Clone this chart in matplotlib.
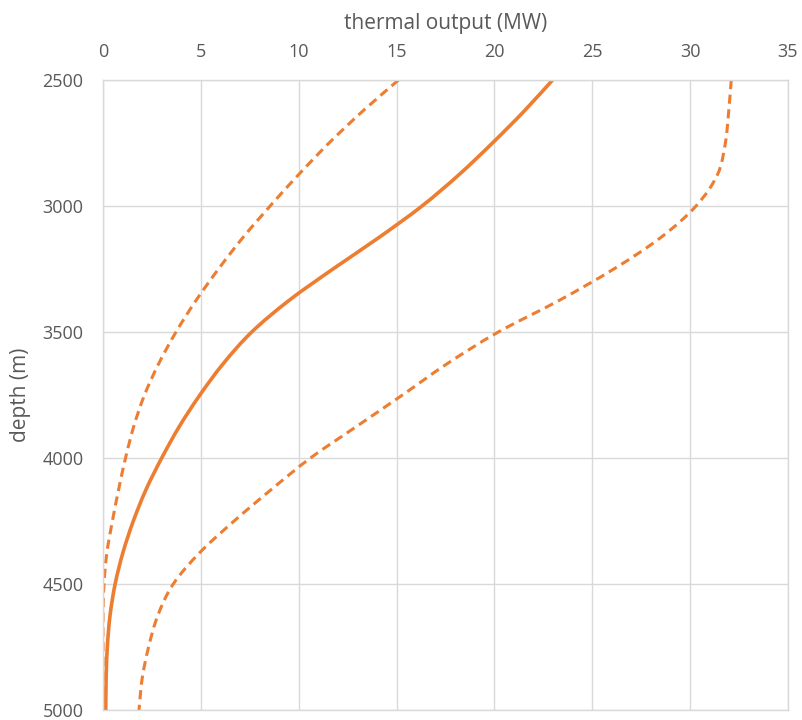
import matplotlib
matplotlib.use('Agg')
import matplotlib.pyplot as plt
from matplotlib.path import Path
from matplotlib.patches import PathPatch
import numpy as np

# depth (m) and thermal output (MW)
depth = [2500, 2625, 2750, 2875, 3000, 3125, 3250, 3375, 3500, 3625, 3750,
         3875, 4000, 4125, 4250, 4375, 4500, 4625, 4750, 4875, 5000]

mid_power = [22.97, 21.5, 19.9, 18.2, 16.3, 14.1, 11.75, 9.5, 7.6, 6.15, 4.95,
             3.9, 3.0, 2.2, 1.55, 1.02, 0.62, 0.36, 0.22, 0.16, 0.14]

low_power = [15.1, 13.25, 11.55, 10.0, 8.54, 7.15, 5.9, 4.75, 3.73, 2.85, 2.12,
             1.57, 1.15, 0.8, 0.48, 0.2, 0.05, 0.0, 0.0, 0.0, 0.0]

high_power = [32.1, 31.97, 31.8, 31.4, 30.3, 28.5, 26.1, 23.3, 20.2, 17.6, 15.3,
              12.95, 10.6, 8.6, 6.7, 4.95, 3.59, 2.8, 2.33, 2.0, 1.84]

x_ticks = [0, 5, 10, 15, 20, 25, 30, 35]
y_ticks = [2500, 3000, 3500, 4000, 4500, 5000]

orange = '#ED7D31'
grey_txt = '#595959'
grid_col = '#D9D9D9'


def smooth_path(xs, ys):
    # catmull-rom through the read points, drawn as bezier segments
    pts = np.column_stack([xs, ys]).astype(float)
    verts = [pts[0]]
    codes = [Path.MOVETO]
    n = len(pts)
    for i in range(n - 1):
        p0 = pts[i - 1] if i > 0 else pts[i]
        p1 = pts[i]
        p2 = pts[i + 1]
        p3 = pts[i + 2] if i + 2 < n else pts[i + 1]
        verts += [p1 + (p2 - p0) / 6, p2 - (p3 - p1) / 6, p2]
        codes += [Path.CURVE4] * 3
    return Path(verts, codes)


plt.rcParams['font.family'] = ['Open Sans', 'DejaVu Sans']

fig = plt.figure(figsize=(8.03, 7.2), dpi=100)
ax = fig.add_axes([103/803, 1 - 710/720, 685/803, 630/720])

dash = (0, (3, 1.8))
ax.add_patch(PathPatch(smooth_path(low_power, depth), fill=False,
                       edgecolor=orange, lw=2.2, linestyle=dash))
ax.add_patch(PathPatch(smooth_path(high_power, depth), fill=False,
                       edgecolor=orange, lw=2.2, linestyle=dash))
ax.add_patch(PathPatch(smooth_path(mid_power, depth), fill=False,
                       edgecolor=orange, lw=2.6))

ax.set_xlim(0, 35)
ax.set_ylim(5000, 2500)
ax.set_xticks(x_ticks)
ax.set_yticks(y_ticks)
ax.xaxis.tick_top()
ax.xaxis.set_label_position('top')
ax.tick_params(length=0, colors=grey_txt, labelsize=13)
ax.tick_params(axis='x', pad=14)
ax.tick_params(axis='y', pad=14)
ax.grid(True, color=grid_col, lw=1)
ax.set_axisbelow(True)
for s in ax.spines.values():
    s.set_color(grid_col)
    s.set_linewidth(1)

ax.set_xlabel('thermal output (MW)', color=grey_txt, fontsize=15, labelpad=10)
ax.set_ylabel('depth (m)', color=grey_txt, fontsize=15, labelpad=8)

fig.savefig('out.png', dpi=100)
